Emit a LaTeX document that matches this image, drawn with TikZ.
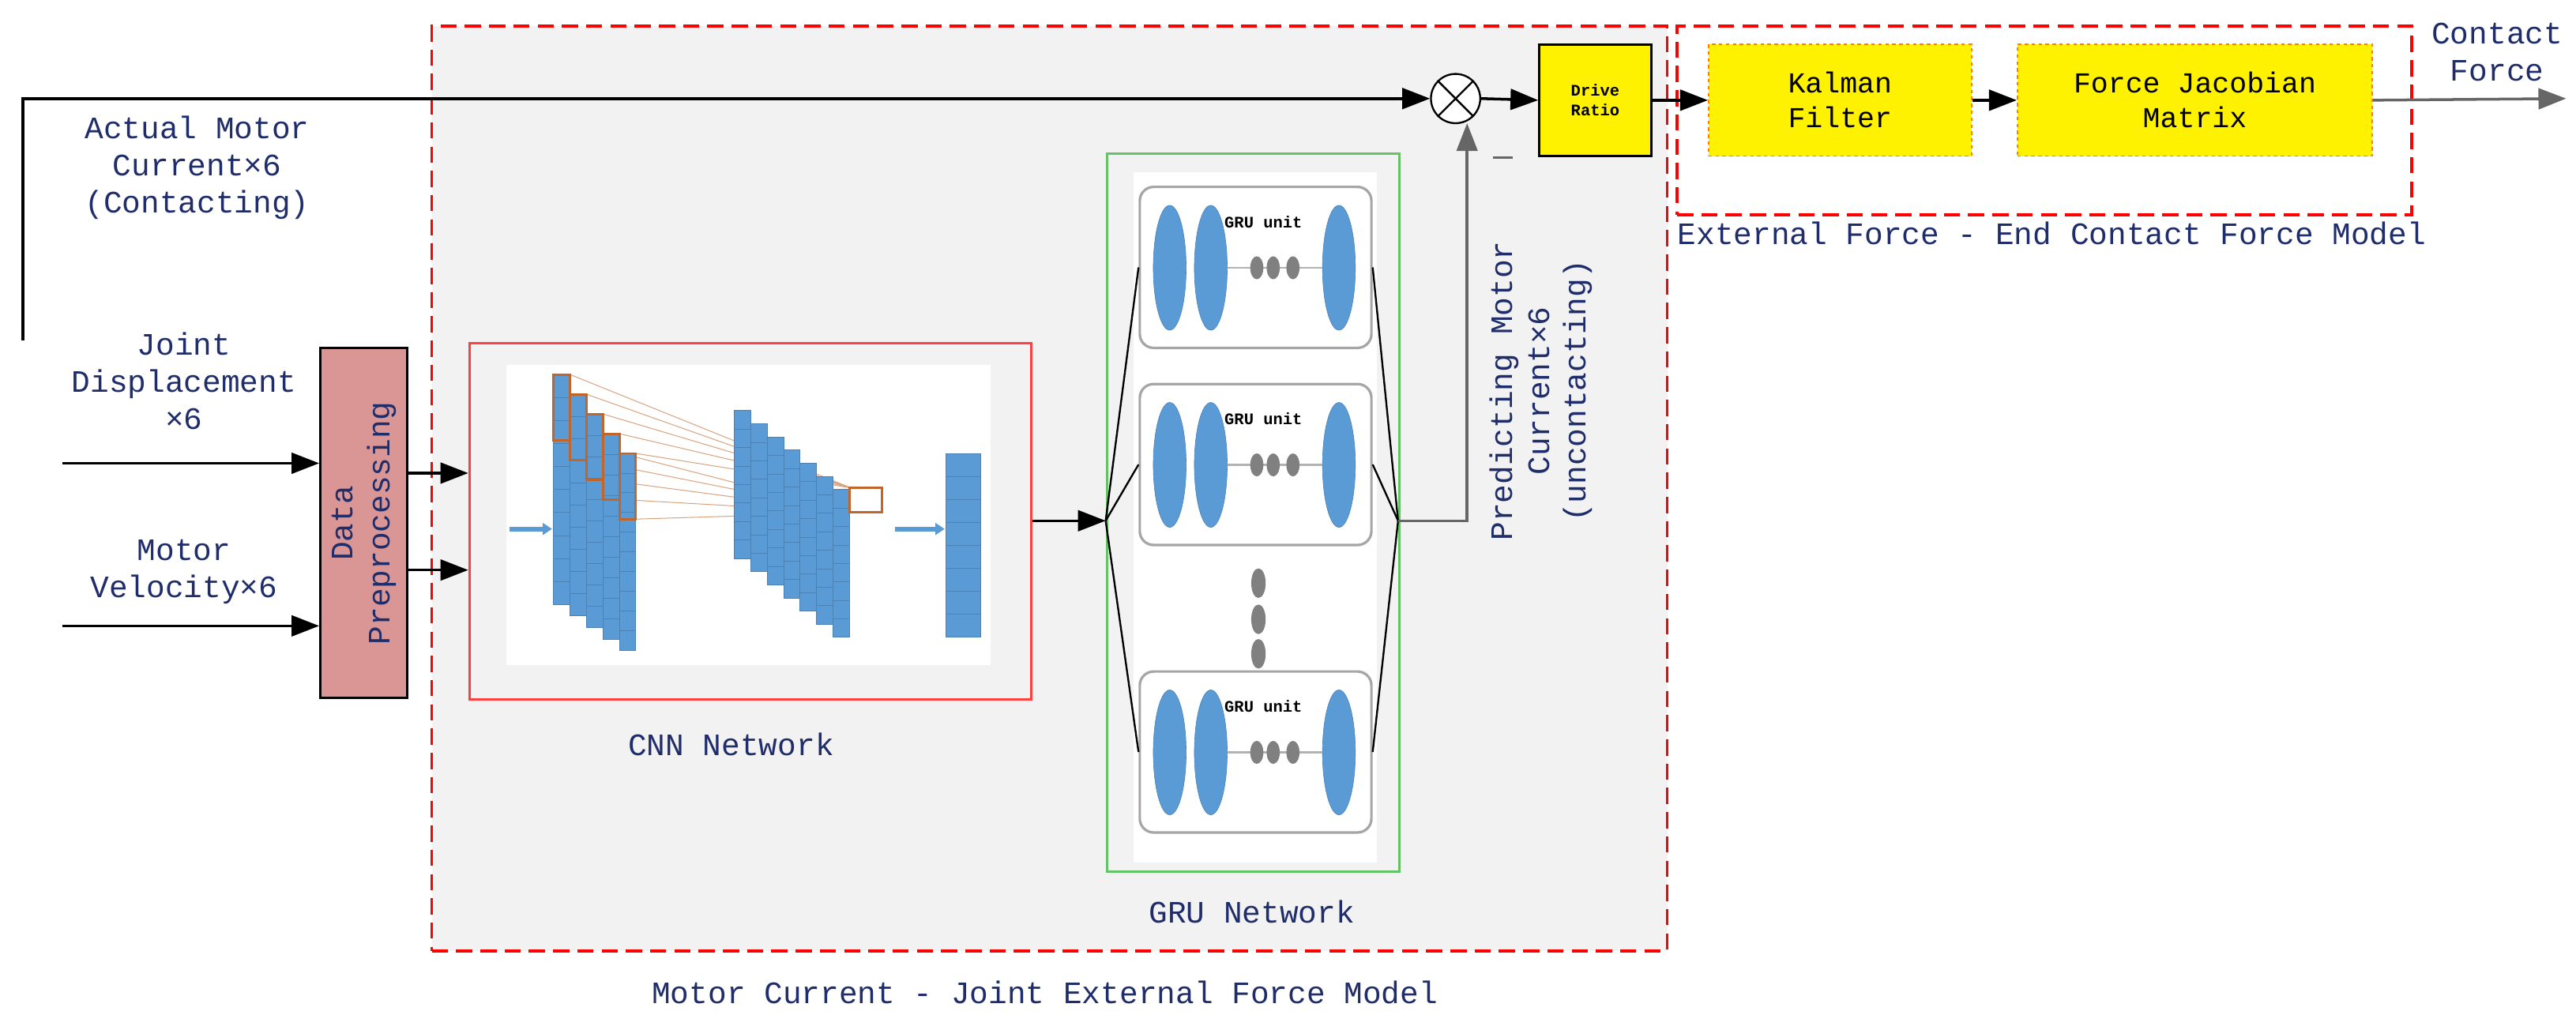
\documentclass[tikz,border=0pt]{standalone}
\usepackage{fontspec}
\setmainfont{Liberation Mono}
\usetikzlibrary{arrows.meta,calc}
\definecolor{navy}{HTML}{1F2D6B}
\definecolor{cblue}{HTML}{5B9BD5}
\definecolor{cedge}{HTML}{4A82B8}
\definecolor{corange}{HTML}{C0662B}
\definecolor{dred}{HTML}{D99694}
\definecolor{bg}{HTML}{F2F2F2}
\begin{document}
\begin{tikzpicture}[x=0.5mm,y=-0.5mm,
  lab/.style={font=\fontsize{27}{32}\selectfont,text=navy,align=center,inner sep=0pt},
  arr/.style={-{Triangle[length=24pt,width=18pt]},line width=2.4pt},
  dashbox/.style={draw=red,dashed,line width=2.4pt,dash pattern=on 14pt off 7pt},
  yel/.style={draw=orange,dashed,fill=yellow,line width=1.2pt,font=\fontsize{25}{30}\selectfont,align=center,inner sep=0pt},
  cell/.style={fill=cblue,draw=cedge,line width=0.6pt},
  unit/.style={draw=gray!70,rounded corners=12pt,line width=2.2pt,fill=white,minimum width=70.5mm,minimum height=49mm,inner sep=0pt}]
\useasboundingbox (0,0) rectangle (1568,627);
\fill[white] (0,0) rectangle (1568,627);
% big boxes
\node[dashbox,fill=bg,minimum width=376mm,minimum height=281.5mm,anchor=north west,inner sep=0pt] (big) at (262,15) {};
\node[dashbox,minimum width=223.5mm,minimum height=57.5mm,anchor=north west,inner sep=0pt] (rbox) at (1020,15) {};
% top chain
\coordinate (a0) at (14,207);
\node[draw,circle,minimum size=15mm,inner sep=0pt,line width=1.6pt,fill=white] (mul) at (886,60) {};
\draw[line width=1.6pt] (mul.north west)--(mul.south east) (mul.north east)--(mul.south west);
\node[draw,fill=yellow,line width=2pt,minimum width=34mm,minimum height=34mm,font=\fontsize{14}{17}\selectfont\bfseries,align=center,inner sep=0pt] (dr) at (971,61) {Drive\\Ratio};
\node[yel,minimum width=80mm,minimum height=34mm] (kal) at (1120,61) {Kalman\\Filter};
\node[yel,minimum width=108mm,minimum height=34mm] (fj) at (1336,61) {Force Jacobian\\Matrix};
\coordinate (cf) at (1562,60);
\draw[arr] (a0)--(14,60)--(mul.west);
\draw[arr] (mul.east)--(dr.west);
\draw[arr] (dr.east)--(kal.west);
\draw[arr] (kal.east)--(fj.west);
\draw[arr,draw=gray!80!black] (fj.east)--(cf);
\node[lab,anchor=north east] at (1560,14) {Contact\\Force};
\draw[line width=2.4pt,draw=gray!80!black] (909,96)--(921,96);
\node[lab] at (120,102) {Actual Motor\\Current×6\\(Contacting)};
\node[lab,anchor=north west] at (1021,135) {External Force - End Contact Force Model};
\node[lab] at (636,604) {Motor Current - Joint External Force Model};
% inputs
\node[draw,fill=dred,line width=2pt,minimum width=26.5mm,minimum height=106.5mm,inner sep=0pt] (dp) at (221.5,318.5) {};
\node[lab,rotate=90] at (dp) {Data\\Preprocessing};
\coordinate (i1) at (38,282); \coordinate (i2) at (38,381);
\draw[arr] (i1)--(dp.west|-i1);
\draw[arr] (i2)--(dp.west|-i2);
\node[lab] at (112,232) {Joint\\Displacement\\×6};
\node[lab] at (112,348) {Motor\\Velocity×6};
% CNN
\node[draw=red!75,line width=2pt,minimum width=171mm,minimum height=108.5mm,anchor=north west,inner sep=0pt] (cnn) at (285,208) {};
\draw[arr] (dp.east|-0,288)--(cnn.west|-0,288);
\draw[arr] (dp.east|-0,347)--(cnn.west|-0,347);
\fill[white] (308,222) rectangle (603,405);
\node[lab] at (445,453) {CNN Network};
\foreach \s in {0,...,4}{\pgfmathsetmacro\xa{347+\s*10}\pgfmathsetmacro\ya{228+\s*12}
  \draw[corange!60,line width=0.7pt] (\xa,\ya)--(518,297) (\xa,\ya+40)--(518,312);}
\foreach \i in {0,...,6}{
  \pgfmathsetmacro\xa{447+\i*10}\pgfmathsetmacro\ya{250+\i*8}\pgfmathsetmacro\yb{340+\i*8}
  \foreach \k in {0,...,7}{\pgfmathsetmacro\yy{\ya+\k*(\yb-\ya)/8}\pgfmathsetmacro\yz{\ya+(\k+1)*(\yb-\ya)/8}
    \draw[cell] (\xa,\yy) rectangle (\xa+10,\yz);}
}
\foreach \i in {0,...,4}{
  \pgfmathsetmacro\xa{337+\i*10}\pgfmathsetmacro\ya{228+\i*12}\pgfmathsetmacro\yb{368+\i*7}
  \foreach \k in {0,...,9}{\pgfmathsetmacro\yy{\ya+\k*(\yb-\ya)/10}\pgfmathsetmacro\yz{\ya+(\k+1)*(\yb-\ya)/10}
    \draw[cell] (\xa,\yy) rectangle (\xa+10,\yz);}
  \draw[corange,line width=2pt] (\xa,\ya) rectangle (\xa+10,\ya+40);
}
\draw[corange,line width=2pt] (517,297) rectangle (537,312);
\foreach \k in {0,...,7}{\draw[cell] (576,276+\k*14) rectangle (597,290+\k*14);}
\draw[-{Triangle[length=8pt,width=10pt]},cblue,line width=4pt] (310,322)--(336,322);
\draw[-{Triangle[length=8pt,width=10pt]},cblue,line width=4pt] (545,322)--(575,322);
% GRU
\node[draw=green!60!black!60,line width=2pt,minimum width=89mm,minimum height=218.5mm,anchor=north west,inner sep=0pt] (gru) at (673,93) {};
\fill[white] (690,105) rectangle (838,525);
\node[lab] at (762,555) {GRU Network};
\coordinate (gin) at (673,317); \coordinate (gout) at (851,317);
\draw[arr] (cnn.east|-gin)--(gin);
\foreach \n/\y in {u1/113,u2/233,u3/408}{
  \node[unit,anchor=north west] (\n) at (693,\y) {};
  \foreach \ex in {19,44,122}{\fill[cblue,draw=cedge] (693+\ex,\y+50) ellipse (5mm and 19mm);}
  \draw[gray!60,line width=2pt] (693+54,\y+50)--(693+112,\y+50);
  \foreach \dx in {72,82,94}{\fill[gray] (693+\dx,\y+50) ellipse (2mm and 3.5mm);}
  \node[font=\fontsize{14}{16}\selectfont\bfseries,inner sep=1pt,fill=white] at (693+76,\y+22) {GRU unit};
  \draw[line width=1.6pt] (gin)--(\n.west);
  \draw[line width=1.6pt] (\n.east)--(gout);
}
\foreach \yy in {355,377,398}{\fill[gray] (766,\yy) ellipse (2.2mm and 4.5mm);}
\draw[arr,draw=gray!80!black] (gout)--(893,317)--(893,75);
\node[lab,rotate=90] at (938,238) {Predicting Motor\\Current×6\\(uncontacting)};
\end{tikzpicture}
\end{document}
